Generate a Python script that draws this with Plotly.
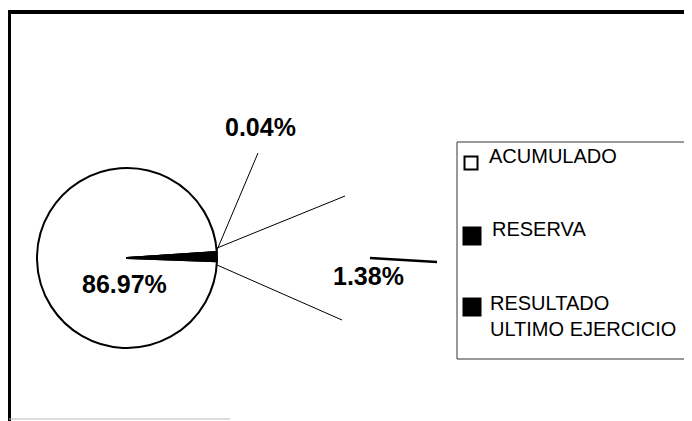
import plotly.graph_objects as go

# ---- data ----
categories = ["ACUMULADO", "RESERVA", "RESULTADO<br>ULTIMO EJERCICIO"]
shares_pct = [86.97, 0.04, 1.38]
slice_colors = ["#ffffff", "#000000", "#000000"]

# window size and the browser's default 8px body margin
WIN_W, WIN_H = 692, 421
OFF = 8
W, H = WIN_W - OFF, WIN_H - OFF
FONT = "Liberation Sans, Arial, sans-serif"


def px(x):
    return (x - OFF) / W


def py(y):
    return 1 - (y - OFF) / H


fig = go.Figure()

fig.add_trace(go.Pie(
    labels=categories,
    values=shares_pct,
    sort=False,
    direction="clockwise",
    rotation=92,
    marker=dict(colors=slice_colors, line=dict(color="#000000", width=2)),
    textinfo="none",
    textposition="none",
    hoverinfo="label+percent",
    showlegend=False,
    domain=dict(x=[px(37), px(217)], y=[py(348), py(168)]),
))

# percentage labels (text from the data values)
label_pos = [(124, 284), (260, 127), (368, 276)]
annotations = []
for val, (lx, ly) in zip(shares_pct, label_pos):
    annotations.append(dict(
        x=px(lx), y=py(ly), xref="paper", yref="paper",
        text=f"<b>{val:.2f}%</b>", showarrow=False,
        font=dict(family=FONT, size=25, color="#000000"),
        xanchor="center", yanchor="middle",
    ))

shapes = []
# leader lines
for (x0, y0, x1, y1, w) in [
    (217, 250, 258, 153, 1),
    (217, 248, 345, 196, 1),
    (217, 265, 342, 320, 1),
    (370, 258, 437, 262, 2.5),
]:
    shapes.append(dict(type="line", xref="paper", yref="paper",
                       x0=px(x0), y0=py(y0), x1=px(x1), y1=py(y1),
                       line=dict(color="#000000", width=w)))

# outer frame (top and left edges)
shapes.append(dict(type="line", xref="paper", yref="paper",
                   x0=px(8), y0=py(12), x1=px(692), y1=py(12),
                   line=dict(color="#000000", width=4)))
shapes.append(dict(type="line", xref="paper", yref="paper",
                   x0=px(9.5), y0=py(10), x1=px(9.5), y1=py(421),
                   line=dict(color="#000000", width=3)))
shapes.append(dict(type="line", xref="paper", yref="paper",
                   x0=px(9), y0=py(419), x1=px(230), y1=py(419),
                   line=dict(color="#bbbbbb", width=1)))

# legend box
shapes.append(dict(type="rect", xref="paper", yref="paper",
                   x0=px(457), y0=py(359), x1=px(687), y1=py(142),
                   line=dict(color="#333333", width=1), fillcolor="rgba(0,0,0,0)"))

legend_rows = [
    dict(sq=(471, 163, 13), text_y=156, text_x=487),
    dict(sq=(472, 236, 17), text_y=229, text_x=490),
    dict(sq=(472, 307, 17), text_y=316, text_x=488),
]
for cat, col, row in zip(categories, slice_colors, legend_rows):
    cx, cy, s = row["sq"]
    shapes.append(dict(type="rect", xref="paper", yref="paper",
                       x0=px(cx - s / 2), x1=px(cx + s / 2),
                       y0=py(cy + s / 2), y1=py(cy - s / 2),
                       line=dict(color="#000000", width=2), fillcolor=col))
    annotations.append(dict(
        x=px(row["text_x"]), y=py(row["text_y"]), xref="paper", yref="paper",
        text=cat, showarrow=False, align="left",
        font=dict(family=FONT, size=20, color="#000000"),
        xanchor="left", yanchor="middle",
    ))

fig.update_layout(
    width=W, height=H,
    margin=dict(l=0, r=0, t=0, b=0),
    paper_bgcolor="#ffffff",
    plot_bgcolor="#ffffff",
    annotations=annotations,
    shapes=shapes,
    showlegend=False,
)

fig.write_html("out.html")
